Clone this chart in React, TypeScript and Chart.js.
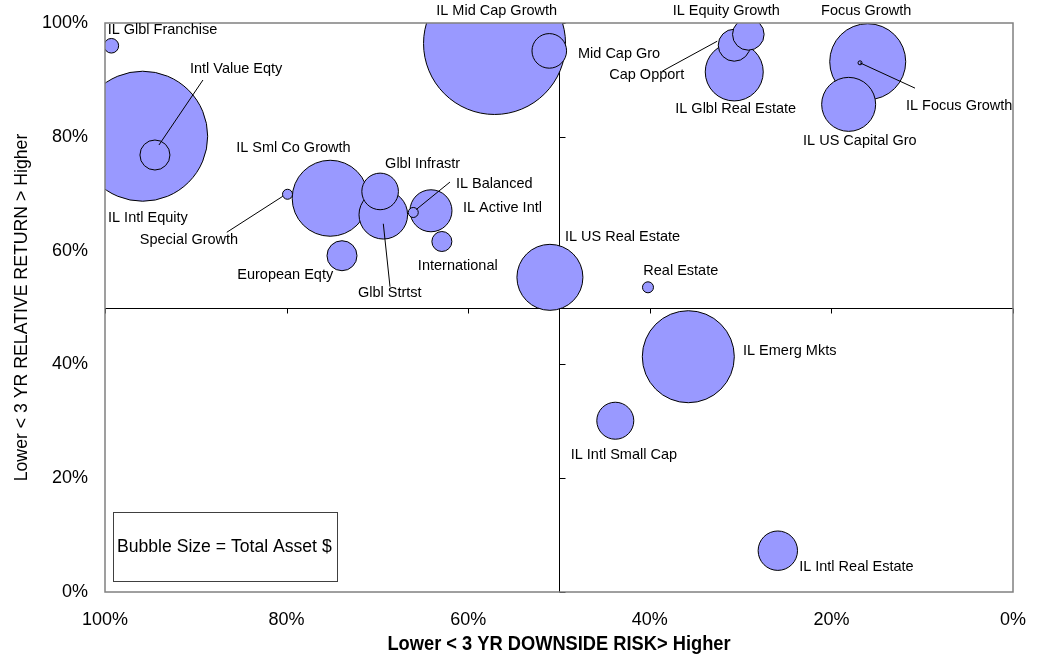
import React, { useEffect, useRef } from 'react';
import { Chart, registerables } from 'chart.js';

Chart.register(...registerables);

// ---- data ----
const funds = [
  'IL Intl Equity', 'IL Mid Cap Growth', 'IL Emerg Mkts', 'Focus Growth', 'IL Sml Co Growth',
  'IL US Real Estate', 'IL Glbl Real Estate', 'IL US Capital Gro', 'Glbl Strtst', 'IL Active Intl',
  'IL Intl Real Estate', 'Glbl Infrastr', 'IL Intl Small Cap', 'Mid Cap Gro', 'Cap Opport',
  'IL Equity Growth', 'Intl Value Eqty', 'European Eqty', 'International', 'IL Glbl Franchise',
  'Real Estate', 'Special Growth', 'IL Balanced', 'IL Focus Growth',
];
// 3 YR downside risk (%), x axis
const downsideRisk = [
  95.85, 57.1, 35.76, 16.0, 75.2,
  51.0, 30.7, 18.1, 69.35, 64.1,
  25.9, 69.7, 43.8, 51.07, 30.7,
  29.15, 94.5, 73.9, 62.9, 99.3,
  40.2, 79.9, 66.05, 16.85,
];
// 3 YR relative return (%), y axis
const relativeReturn = [
  80.1, 96.4, 41.35, 93.2, 69.2,
  55.3, 91.4, 85.7, 66.3, 67.0,
  7.26, 70.4, 30.1, 95.1, 96.1,
  98.0, 76.8, 59.1, 61.6, 96.0,
  53.55, 69.9, 66.7, 93.0,
];
// bubble size = total asset $ (bubble radius)
const totalAssetSize = [
  65, 71, 46, 38, 38,
  33, 29, 27, 24.3, 21,
  19.7, 18.3, 18.5, 17.3, 16,
  15.8, 15, 15, 10, 7.3,
  5.5, 5, 5, 2,
];
const axisTicks = [0, 20, 40, 60, 80, 100];
const xAxisTitle = 'Lower < 3 YR DOWNSIDE RISK> Higher';
const yAxisTitle = 'Lower < 3 YR RELATIVE RETURN > Higher';
const sizeNote = 'Bubble Size = Total Asset $';

// ---- label layout (pixel offsets from bubble centre) ----
const labelOffsets: [number, number][] = [
  [-34.7, 82], [-58.3, -32.6], [54.7, -5.7], [-46.7, -51], [-94, -50],
  [15, -40.3], [-59, 37.3], [-45.6, 36.7], [-25.3, 78], [32, -2.7],
  [21.3, 16.6], [5, -27.7], [-44.6, 34.6], [28.7, 3], [-125, 30],
  [-75.6, -23.6], [35, -86], [-104.7, 19], [-24, 24.3], [-3.7, -16],
  [-4.7, -16.6], [-147.7, 46], [42.7, -28.7], [46, 43.3],
];
// leader lines: [index, startDx, startDy, endDx, endDy]
const leaderLines: [number, number, number, number, number][] = [
  [8, 0, 9, 6.7, 72],
  [14, -72, 26, -17, -4],
  [16, 4, -10, 48, -75],
  [21, -60.7, 38, -4.7, 2],
  [22, 3, -3, 36.7, -30.4],
  [23, 0, 0, 55, 25.3],
];

const FONT = '"Liberation Sans", Arial, sans-serif';

const overlayPlugin = {
  id: 'overlay',
  beforeDatasetsDraw(chart: any) {
    const { ctx, chartArea: a, scales } = chart;
    const xs = scales.x, ys = scales.y;
    const mx = Math.round(xs.getPixelForValue(50)) + 0.5;
    const my = Math.round(ys.getPixelForValue(50)) + 0.5;
    ctx.save();
    ctx.strokeStyle = '#000';
    ctx.lineWidth = 1;
    ctx.beginPath();
    ctx.moveTo(mx, a.top);
    ctx.lineTo(mx, a.bottom);
    ctx.moveTo(a.left, my);
    ctx.lineTo(a.right, my);
    axisTicks.forEach((v) => {
      const px = Math.round(xs.getPixelForValue(v)) + 0.5;
      ctx.moveTo(px, my);
      ctx.lineTo(px, my + 5);
      const py = Math.round(ys.getPixelForValue(v)) + 0.5;
      ctx.moveTo(mx, py);
      ctx.lineTo(mx + 6, py);
    });
    ctx.stroke();
    ctx.restore();
  },
  afterDatasetsDraw(chart: any) {
    const { ctx, chartArea: a } = chart;
    const meta = chart.getDatasetMeta(0);
    ctx.save();
    // plot frame
    ctx.strokeStyle = '#808080';
    ctx.lineWidth = 1.5;
    ctx.strokeRect(a.left, a.top, a.right - a.left, a.bottom - a.top);
    // leader lines
    ctx.strokeStyle = '#000';
    ctx.lineWidth = 1;
    ctx.beginPath();
    leaderLines.forEach(([i, sx, sy, ex, ey]) => {
      const el = meta.data[i];
      ctx.moveTo(el.x + sx, el.y + sy);
      ctx.lineTo(el.x + ex, el.y + ey);
    });
    ctx.stroke();
    // labels
    ctx.fillStyle = '#000';
    ctx.font = `14.5px ${FONT}`;
    ctx.textAlign = 'left';
    ctx.textBaseline = 'middle';
    funds.forEach((name, i) => {
      const el = meta.data[i];
      const [dx, dy] = labelOffsets[i];
      ctx.fillText(name, el.x + dx, el.y + dy);
    });
    // bubble-size note
    const bx = a.left + 8, by = a.bottom - 80, bw = 224, bh = 69;
    ctx.strokeStyle = '#404040';
    ctx.lineWidth = 1;
    ctx.strokeRect(bx + 0.5, by + 0.5, bw, bh);
    ctx.font = `17.6px ${FONT}`;
    ctx.fillText(sizeNote, bx + 4, by + bh / 2 + 1);
    // x axis title (condensed bold, like Arial Narrow)
    const cx = (a.left + a.right) / 2;
    ctx.translate(cx, 644);
    ctx.scale(0.87, 1);
    ctx.font = `bold 21px ${FONT}`;
    ctx.textAlign = 'center';
    ctx.fillText(xAxisTitle, 0, 0);
    ctx.restore();
  },
};

export default function App() {
  const ref = useRef<HTMLCanvasElement | null>(null);
  useEffect(() => {
    document.body.style.margin = '0';
    const canvas = ref.current;
    if (!canvas) return;
    const points = funds.map((_, i) => ({ x: downsideRisk[i], y: relativeReturn[i], r: totalAssetSize[i] }));
    const chart = new Chart(canvas, {
      type: 'bubble',
      data: {
        datasets: [
          {
            label: 'Funds',
            data: points,
            backgroundColor: '#9999FF',
            borderColor: '#000000',
            borderWidth: 1,
            hoverRadius: 0,
            clip: 0,
          } as any,
        ],
      },
      options: {
        responsive: false,
        animation: false,
        events: [],
        layout: { autoPadding: false, padding: { top: 23, right: 26, left: 0, bottom: 0 } },
        plugins: { legend: { display: false }, tooltip: { enabled: false } },
        scales: {
          x: {
            type: 'linear',
            reverse: true,
            min: 0,
            max: 100,
            afterFit: (s: any) => { s.height = 65; s.paddingLeft = 0; s.paddingRight = 0; },
            grid: { display: false, drawTicks: false },
            border: { display: false },
            ticks: {
              stepSize: 20,
              padding: 17,
              color: '#000',
              font: { family: FONT, size: 18 },
              maxRotation: 0,
              callback: (v: any) => `${v}%`,
            },
            title: { display: false },
          },
          y: {
            type: 'linear',
            min: 0,
            max: 100,
            afterFit: (s: any) => { s.width = 105; s.paddingTop = 0; s.paddingBottom = 0; },
            grid: { display: false, drawTicks: false },
            border: { display: false },
            ticks: {
              stepSize: 20,
              padding: 17,
              color: '#000',
              font: { family: FONT, size: 18 },
              callback: (v: any) => `${v}%`,
            },
            title: {
              display: true,
              text: yAxisTitle,
              color: '#000',
              font: { family: FONT, size: 17.7 },
              padding: { top: 11, bottom: 0 },
            },
          },
        },
      },
      plugins: [overlayPlugin],
    });
    return () => chart.destroy();
  }, []);
  return (
    <div style={{ width: 1039, height: 657 }}>
      <canvas ref={ref} width={1039} height={657} />
    </div>
  );
}
